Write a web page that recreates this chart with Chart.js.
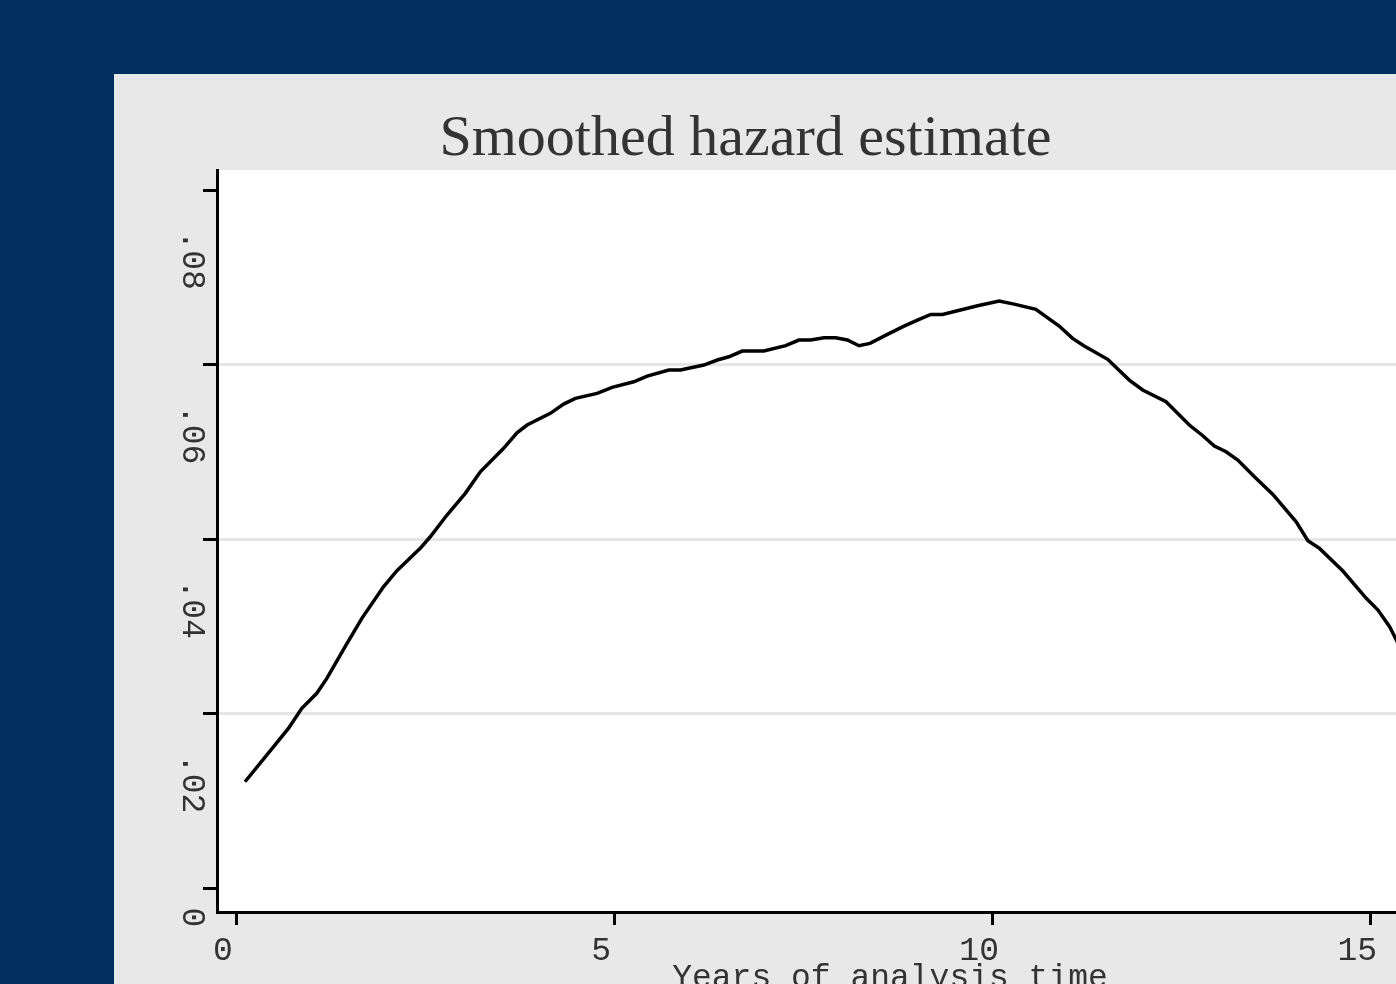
<!DOCTYPE html>
<html>
<head>
<meta charset="utf-8">
<script src="https://cdn.jsdelivr.net/npm/chart.js@4.4.0/dist/chart.umd.min.js"></script>
<style>
  html, body { margin: 0; padding: 0; overflow: hidden; background: #002f5f; width: 1396px; height: 984px; }
  #panel { position: absolute; left: 114px; top: 74px; width: 1600px; height: 1000px; background: #e8e8e8; }
</style>
</head>
<body>
<div id="panel"><canvas id="hazardChart"></canvas></div>
<script>
// 平滑化ハザード推定値
const chartTitle = "Smoothed hazard estimate";
const xAxisTitle = "Years of analysis time";

const times = [0.119, 0.406, 0.693, 0.870, 1.068, 1.201, 1.443, 1.664, 1.950, 2.128,
  2.436, 2.569, 2.790, 3.032, 3.231, 3.539, 3.716, 3.849, 4.157, 4.333,
  4.488, 4.776, 4.974, 5.260, 5.438, 5.724, 5.879, 6.187, 6.365, 6.518,
  6.695, 6.981, 7.269, 7.445, 7.600, 7.776, 7.931, 8.085, 8.239, 8.385,
  8.615, 8.835, 9.012, 9.188, 9.343, 9.542, 9.807, 10.093, 10.291, 10.578,
  10.887, 11.064, 11.218, 11.528, 11.814, 11.991, 12.300, 12.608, 12.786, 12.939,
  13.094, 13.249, 13.469, 13.713, 14.021, 14.176, 14.330, 14.639, 14.948, 15.103,
  15.257, 15.358, 15.5];
const hazard = [0.01218, 0.01524, 0.01830, 0.02060, 0.02232, 0.02403, 0.02766, 0.03091, 0.03453, 0.03637,
  0.03893, 0.04026, 0.04275, 0.04524, 0.04771, 0.05040, 0.05218, 0.05307, 0.05441, 0.05547,
  0.05613, 0.05670, 0.05739, 0.05803, 0.05868, 0.05937, 0.05937, 0.05994, 0.06052, 0.06089,
  0.06155, 0.06155, 0.06216, 0.06281, 0.06281, 0.06307, 0.06307, 0.06281, 0.06216, 0.06243,
  0.06346, 0.06441, 0.06510, 0.06575, 0.06575, 0.06617, 0.06674, 0.06728, 0.06693, 0.06633,
  0.06441, 0.06300, 0.06212, 0.06060, 0.05822, 0.05708, 0.05574, 0.05307, 0.05184, 0.05066,
  0.05001, 0.04905, 0.04714, 0.04512, 0.04198, 0.03981, 0.03893, 0.03633, 0.03320, 0.03186,
  0.02995, 0.02823, 0.0255];

const xTicks = [0, 5, 10, 15];
const yTicks = [0, 0.02, 0.04, 0.06, 0.08];
const yTickLabels = ["0", ".02", ".04", ".06", ".08"];

const monoFont = '"Liberation Mono", "DejaVu Sans Mono", monospace';
const textColor = "#333333";

// 背景とタイトル、Y軸ラベル（回転）を描くプラグイン
const stataPlugin = {
  id: "stata",
  beforeDraw(chart) {
    const { ctx, chartArea } = chart;
    ctx.save();
    ctx.fillStyle = "#ffffff";
    ctx.fillRect(chartArea.left, chartArea.top, chartArea.right - chartArea.left, chartArea.bottom - chartArea.top);
    ctx.restore();
  },
  afterDraw(chart) {
    const { ctx } = chart;
    ctx.save();
    ctx.fillStyle = textColor;
    ctx.font = '58px "Liberation Serif", serif';
    ctx.textAlign = "center";
    ctx.textBaseline = "alphabetic";
    ctx.fillText(chartTitle, 631.5, 81);

    const yScale = chart.scales.y;
    ctx.font = "33px " + monoFont;
    yTicks.forEach((v, i) => {
      const label = yTickLabels[i];
      const w = ctx.measureText(label).width;
      const py = yScale.getPixelForValue(v) + 0.68 * w + (label.length === 1 ? 6 : 0);
      ctx.save();
      ctx.translate(69, py);
      ctx.rotate(Math.PI / 2);
      ctx.textAlign = "left";
      ctx.textBaseline = "alphabetic";
      ctx.fillText(label, 0, 0);
      ctx.restore();
    });
    ctx.restore();
  },
};

const hazardChartConfig = {
  type: "line",
  data: {
    datasets: [
      {
        data: times.map((t, i) => ({ x: t, y: hazard[i] })),
        borderColor: "#000000",
        borderWidth: 3.5,
        pointRadius: 0,
        tension: 0,
        fill: false,
      },
    ],
  },
  options: {
    responsive: true,
    maintainAspectRatio: false,
    animation: false,
    layout: {
      padding: { top: 96, left: 0, right: 151, bottom: 76 },
    },
    plugins: {
      legend: { display: false },
      tooltip: { enabled: false },
      title: { display: false },
    },
    scales: {
      x: {
        type: "linear",
        min: -0.2516,
        max: 17.55,
        afterBuildTicks: (scale) => {
          scale.ticks = xTicks.map((v) => ({ value: v }));
        },
        afterFit: (scale) => {
          scale.height = 86;
        },
        border: { display: true, color: "#000000", width: 3 },
        grid: {
          drawOnChartArea: false,
          drawTicks: true,
          tickLength: 13,
          tickWidth: 3,
          tickColor: "#000000",
        },
        ticks: {
          autoSkip: false,
          maxRotation: 0,
          minRotation: 0,
          padding: 6,
          labelOffset: -13,
          color: textColor,
          font: { family: monoFont, size: 33 },
        },
        title: {
          display: true,
          text: xAxisTitle,
          color: textColor,
          font: { family: monoFont, size: 33 },
          padding: { top: 0, bottom: 0 },
        },
      },
      y: {
        type: "linear",
        min: -0.00275,
        max: 0.0823,
        afterBuildTicks: (scale) => {
          scale.ticks = yTicks.map((v) => ({ value: v }));
        },
        afterFit: (scale) => {
          scale.width = 103;
        },
        border: { display: true, color: "#000000", width: 3 },
        grid: {
          color: (ctx) => {
            const v = ctx.tick ? ctx.tick.value : null;
            return v === 0 || v === 0.08 ? "rgba(0,0,0,0)" : "#e6e6e6";
          },
          lineWidth: 3,
          drawTicks: true,
          tickLength: 14,
          tickWidth: 3,
          tickColor: "#000000",
        },
        ticks: {
          display: false,
        },
      },
    },
  },
  plugins: [stataPlugin],
};

document.addEventListener("DOMContentLoaded", () => {
  const hazardChart = new Chart("hazardChart", hazardChartConfig);
});
</script>
</body>
</html>
